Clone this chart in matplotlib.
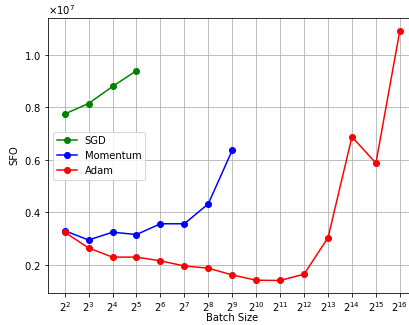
import matplotlib
matplotlib.use("Agg")
import matplotlib.pyplot as plt
from matplotlib.ticker import ScalarFormatter

batch_exp = list(range(2, 17))
batch_sizes = [2 ** e for e in batch_exp]

sgd_sfo = [0.774, 0.814, 0.879, 0.939]
momentum_sfo = [0.330, 0.294, 0.324, 0.315, 0.356, 0.356, 0.432, 0.636]
adam_sfo = [0.324, 0.264, 0.229, 0.229, 0.215, 0.195, 0.187, 0.161,
            0.141, 0.140, 0.164, 0.303, 0.687, 0.587, 1.092]

DPI = 72
fig = plt.figure(figsize=(409 / DPI, 325 / DPI), dpi=DPI)
ax = fig.add_axes([0.117, 0.0985, 0.9016, 0.846])

ax.plot(batch_sizes[:len(sgd_sfo)], [v * 1e7 for v in sgd_sfo], "o-", color="green", label="SGD")
ax.plot(batch_sizes[:len(momentum_sfo)], [v * 1e7 for v in momentum_sfo], "o-", color="blue", label="Momentum")
ax.plot(batch_sizes, [v * 1e7 for v in adam_sfo], "o-", color="red", label="Adam")

ax.set_xscale("log", base=2)
ax.set_xticks(batch_sizes)
ax.minorticks_off()
ax.yaxis.set_major_formatter(ScalarFormatter(useMathText=True))
ax.set_xlabel("Batch Size", labelpad=-1)
ax.set_ylabel("SFO")
ax.grid(True, which="major")
ax.legend(loc="center left")

fig.savefig("out.png", dpi=DPI)
